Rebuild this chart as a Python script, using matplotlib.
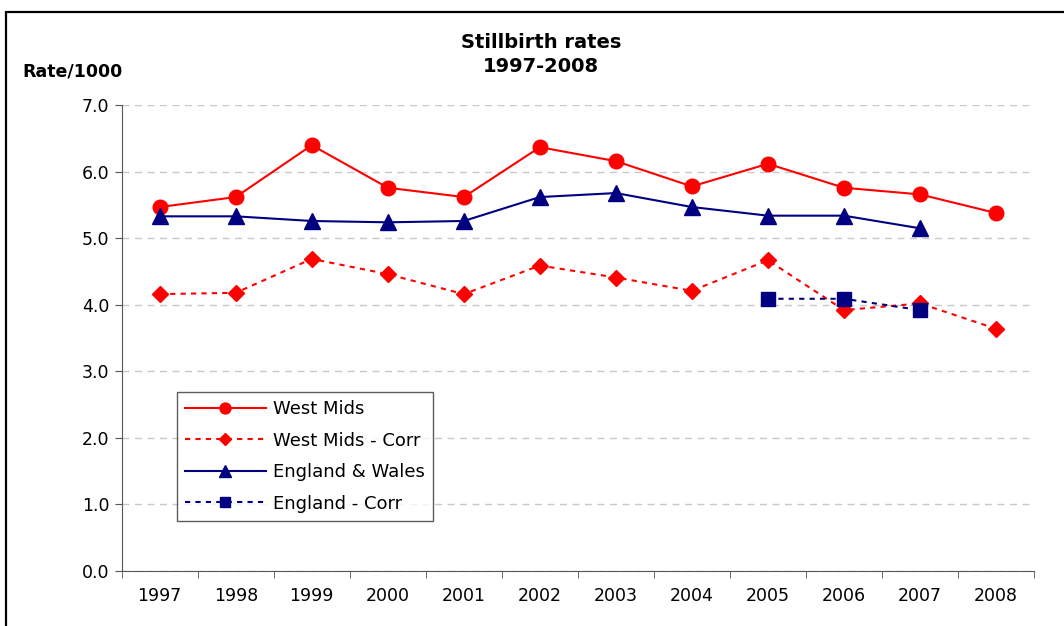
import numpy as np
import matplotlib.pyplot as plt
from matplotlib.patches import Rectangle

plt.rcParams['font.family'] = ['DejaVu Sans']

# Data
years = ['1997', '1998', '1999', '2000', '2001', '2002',
         '2003', '2004', '2005', '2006', '2007', '2008']
west_mids = [5.47, 5.62, 6.40, 5.76, 5.62, 6.37, 6.16, 5.78, 6.12, 5.76, 5.66, 5.38]
west_mids_corr = [4.16, 4.18, 4.69, 4.46, 4.16, 4.59, 4.41, 4.21, 4.67, 3.92, 4.02, 3.64]
eng_wales = [5.33, 5.33, 5.26, 5.24, 5.26, 5.62, 5.68, 5.47, 5.34, 5.34, 5.15, np.nan]
eng_corr = [np.nan] * 8 + [4.09, 4.09, 3.92, np.nan]

x = np.arange(len(years))

fig = plt.figure(figsize=(10.64, 6.26), dpi=100)
ax = fig.add_axes([0.1144, 0.0883, 0.8574, 0.7435])

# outer chart frame (runs off the right and bottom of the picture)
fig.patches.append(Rectangle((6 / 1064, -0.05), 1.2, 1 - 12 / 626 + 0.05,
                             transform=fig.transFigure, fill=False,
                             edgecolor='black', linewidth=1.6))

red = '#FF0000'
navy = '#000080'

ax.plot(x, west_mids, color=red, lw=1.5, marker='o', ms=10.5, label='West Mids')
ax.plot(x, west_mids_corr, color=red, lw=1.5, ls=(0, (2.5, 2.5)), marker='D', ms=8,
        label='West Mids - Corr')
ax.plot(x, eng_wales, color=navy, lw=1.5, marker='^', ms=11, label='England & Wales')
ax.plot(x, eng_corr, color=navy, lw=1.5, ls=(0, (2.5, 2.5)), marker='s', ms=9.5,
        label='England - Corr')

ax.set_xlim(-0.5, len(years) - 0.5)
ax.set_ylim(0, 7)
ax.set_yticks(np.arange(0, 7.1, 1.0))
ax.set_yticklabels([f'{v:.1f}' for v in np.arange(0, 7.1, 1.0)], fontsize=12.5)
ax.set_xticks(x)
ax.set_xticklabels(years, fontsize=12.5)
ax.tick_params(axis='x', which='major', length=0, pad=12)
ax.set_xticks(np.arange(-0.5, len(years)), minor=True)
ax.tick_params(axis='x', which='minor', length=5, color='#555555')
ax.tick_params(axis='y', length=5, color='#555555', pad=4)

ax.grid(axis='y', color='#C8C8C8', ls=(0, (5, 4)), lw=1)
ax.set_axisbelow(True)
for s in ['top', 'right']:
    ax.spines[s].set_visible(False)
for s in ['left', 'bottom']:
    ax.spines[s].set_color('#555555')

fig.text(0.5085, 1 - 54.5 / 626, 'Stillbirth rates\n1997-2008', ha='center', va='center',
         fontsize=14, fontweight='bold', linespacing=1.3)
fig.text(22 / 1064, 1 - 71 / 626, 'Rate/1000', ha='left', va='center',
         fontsize=12.5, fontweight='bold')

leg = ax.legend(loc='upper left', bbox_to_anchor=(55 / 912, (570.7 - 392) / 465.4),
                fontsize=13, handlelength=4.5, frameon=True, fancybox=False,
                borderpad=0.45, labelspacing=0.75, handletextpad=0.4,
                markerscale=0.75, borderaxespad=0)
leg.get_frame().set_edgecolor('#333333')
leg.get_frame().set_linewidth(1)

fig.savefig('out.png', dpi=100)
